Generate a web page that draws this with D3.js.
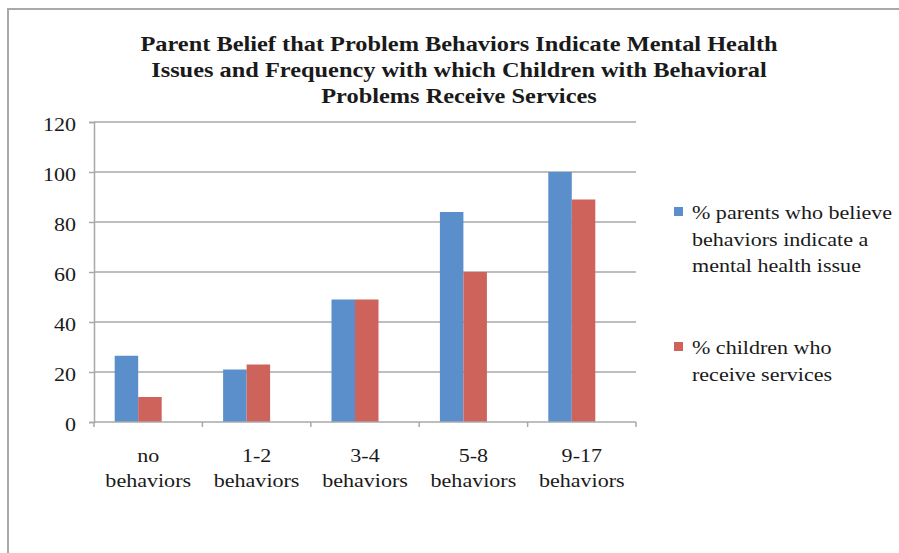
<!DOCTYPE html>
<html>
<head>
<meta charset="utf-8">
<script src="https://cdn.jsdelivr.net/npm/d3@7"></script>
<style>
  body { margin: 0; background: #fff; }
</style>
</head>
<body>
<div id="chart"></div>
<script>
var categories = ["no behaviors", "1-2 behaviors", "3-4 behaviors", "5-8 behaviors", "9-17 behaviors"];
var seriesNames = ["% parents who believe behaviors indicate a mental health issue",
                   "% children who receive services"];
var parentsBelieve = [26.5, 21, 49, 84, 100];
var childrenServices = [10, 23, 49, 60, 89];
var yTicks = [0, 20, 40, 60, 80, 100, 120];
var titleLines = ["Parent Belief that Problem Behaviors Indicate Mental Health",
                  "Issues and Frequency with which Children with Behavioral",
                  "Problems Receive Services"];
var legendLines = [["% parents who believe", "behaviors indicate a", "mental health issue"],
                   ["% children who", "receive services"]];
var colors = ["#5b8fcb", "#cd635a"];

var svgWidth = 899;
var svgHeight = 553;

var margin = { top: 122, left: 94, right: 263, bottom: 131 };
var chartWidth = svgWidth - margin.left - margin.right;
var chartHeight = svgHeight - margin.top - margin.bottom;

var serif = "'Liberation Serif', 'Times New Roman', serif";

// the original text is a little wider than its height suggests
var stretch = 1.16;
function widen(sel) {
  sel.style("font-family", serif)
    .style("fill", "#1a1a1a");
  sel.each(function () {
    var len = this.getComputedTextLength();
    d3.select(this)
      .attr("textLength", len * stretch)
      .attr("lengthAdjust", "spacingAndGlyphs");
  });
}

var svg = d3.select("#chart")
  .append("svg")
  .attr("width", svgWidth)
  .attr("height", svgHeight);

// outer frame (top and left edges visible)
svg.append("path")
  .attr("d", "M8,553 V9 H899")
  .attr("fill", "none")
  .attr("stroke", "#a9a9a9")
  .attr("stroke-width", 2);

var title = svg.append("g").attr("class", "title");
titleLines.forEach(function (line, i) {
  title.append("text")
    .attr("x", 459)
    .attr("y", 51 + i * 26)
    .attr("text-anchor", "middle")
    .attr("font-size", 21)
    .attr("font-weight", "bold")
    .text(line)
    .call(widen);
});

var chartGroup = svg.append("g")
  .attr("transform", `translate(${margin.left}, ${margin.top})`);

var yLinearScale = d3.scaleLinear()
  .domain([0, 120])
  .range([chartHeight, 0]);

var xBand = d3.scaleBand()
  .domain(categories)
  .range([0, chartWidth]);

// bars sit slightly left of the category centre in the original
var barShift = -10;
var xInner = d3.scaleBand()
  .domain(seriesNames)
  .range([0, 47]);

// gridlines
chartGroup.selectAll(".grid")
  .data(yTicks.filter(function (d) { return d > 0; }))
  .enter()
  .append("line")
  .attr("class", "grid")
  .attr("x1", 0)
  .attr("x2", chartWidth)
  .attr("y1", d => yLinearScale(d))
  .attr("y2", d => yLinearScale(d))
  .attr("stroke", "#a8a8a8")
  .attr("stroke-width", 1.5);

var leftAxis = d3.axisLeft(yLinearScale)
  .tickValues(yTicks)
  .tickSize(5)
  .tickPadding(13);

var yAxis = chartGroup.append("g")
  .classed("y-axis", true)
  .call(leftAxis);

yAxis.select(".domain").attr("stroke", "#a8a8a8").attr("stroke-width", 1.5);
yAxis.selectAll(".tick line").attr("stroke", "#a8a8a8").attr("stroke-width", 1.5);
yAxis.selectAll(".tick text")
  .attr("font-size", 19)
  .attr("dy", "0.45em")
  .call(widen);

var seriesData = [parentsBelieve, childrenServices];
var groups = chartGroup.selectAll(".series")
  .data(seriesData)
  .enter()
  .append("g")
  .attr("class", "series")
  .attr("fill", (d, i) => colors[i]);

groups.each(function (vals, si) {
  d3.select(this).selectAll("rect")
    .data(vals)
    .enter()
    .append("rect")
    .attr("x", (d, i) => xBand(categories[i]) + xBand.bandwidth() / 2 - 23.5 + barShift + xInner(seriesNames[si]))
    .attr("width", xInner.bandwidth())
    .attr("y", d => yLinearScale(d))
    .attr("height", d => chartHeight - yLinearScale(d));
});

// x axis line and boundary ticks
var xAxis = chartGroup.append("g")
  .attr("class", "x-axis")
  .attr("transform", `translate(0, ${chartHeight})`);

xAxis.append("line")
  .attr("x1", 0)
  .attr("x2", chartWidth)
  .attr("stroke", "#a8a8a8")
  .attr("stroke-width", 1.5);

var boundaries = categories.map(c => xBand(c)).concat([chartWidth]);
xAxis.selectAll(".xtick")
  .data(boundaries)
  .enter()
  .append("line")
  .attr("class", "xtick")
  .attr("x1", d => d)
  .attr("x2", d => d)
  .attr("y1", 0)
  .attr("y2", 5)
  .attr("stroke", "#a8a8a8")
  .attr("stroke-width", 1.5);

var labelGroups = xAxis.selectAll(".xlabel")
  .data(categories)
  .enter()
  .append("g")
  .attr("class", "xlabel")
  .attr("transform", d => `translate(${xBand(d) + xBand.bandwidth() / 2}, 40)`);

labelGroups.each(function (d) {
  var parts = d.split(" ");
  var g = d3.select(this);
  parts.forEach(function (p, k) {
    g.append("text")
      .attr("x", 0)
      .attr("y", k * 25)
      .attr("text-anchor", "middle")
      .attr("font-size", 19)
      .text(p)
      .call(widen);
  });
});

// legend
var legend = svg.append("g").attr("class", "legend");
var legendTop = [219, 354];
legendLines.forEach(function (lines, si) {
  legend.append("rect")
    .attr("x", 674)
    .attr("y", legendTop[si] - 12)
    .attr("width", 9)
    .attr("height", 9)
    .attr("fill", colors[si]);
  lines.forEach(function (line, li) {
    legend.append("text")
      .attr("x", 692)
      .attr("y", legendTop[si] + li * 26.5)
      .attr("font-size", 19)
      .text(line)
      .call(widen);
  });
});
</script>
</body>
</html>
